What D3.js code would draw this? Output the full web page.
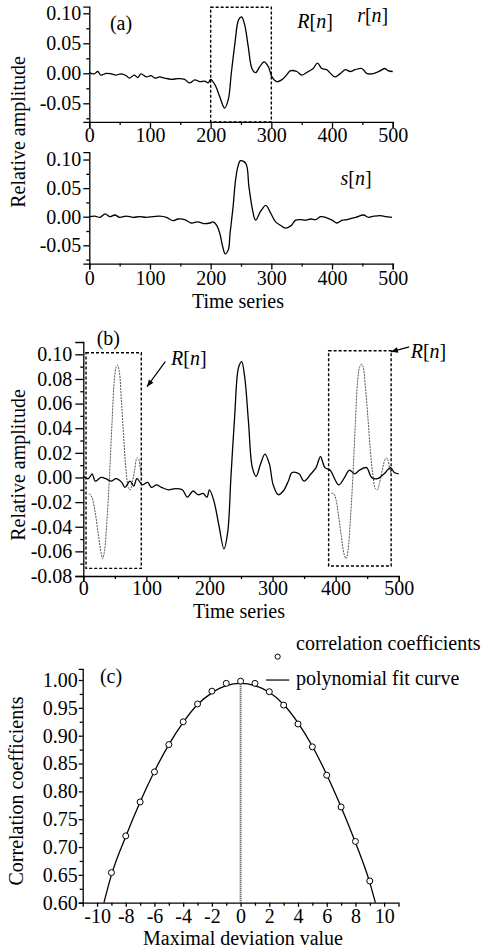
<!DOCTYPE html>
<html lang="en">
<head>
<meta charset="utf-8">
<title>Template matching figure</title>
<script src="https://d3js.org/d3.v7.min.js"></script>
<style>
    body { margin: 0; background: #fff; }
    .axis path, .axis line { stroke: #000; stroke-width: 1.3px; }
    .sig { fill: none; stroke: #000; stroke-width: 1.3px; }
    .ref { fill: none; stroke: #555; stroke-width: 1px; stroke-dasharray: 2,1; }
    .box { fill: none; stroke: #000; stroke-width: 1.4px; stroke-dasharray: 3,2; }
</style>
</head>
<body>
<svg id="fig"></svg>
<script>
// r[n]: received signal (panel a top, also solid line in panel b)
var rT = [0, 8, 14, 19, 28, 36, 44, 52, 61, 66, 74, 80, 85, 94, 102, 108, 116, 124, 135, 146, 157, 165, 174, 182, 190, 196,
          200, 207, 215, 223, 229, 234, 240, 246, 251, 256, 262, 268, 274, 281, 288, 295, 301, 309, 317, 325, 331, 342,
          350, 361, 369, 376, 383, 391, 405, 413, 422, 430, 438, 449, 457, 466, 477, 487, 493, 500];
var rV = [0.001, -0.001, 0.003, -0.003, 0, -0.001, -0.003, -0.001, -0.004, -0.008, -0.003, -0.007, -0.001, -0.006, -0.004,
          -0.008, -0.006, -0.008, -0.010, -0.009, -0.010, -0.016, -0.011, -0.014, -0.013, -0.016,
          -0.010, -0.019, -0.039, -0.058, -0.044, 0.000, 0.050, 0.089, 0.094, 0.081, 0.044, 0.008, 0.001, 0.011, 0.019,
          0.011, -0.006, -0.014, -0.011, -0.003, 0.004, 0.003, -0.003, 0.003, 0.008, 0.017, 0.008, 0.006, -0.006, -0.001,
          0.006, 0.003, 0.006, 0.008, 0, -0.001, 0.003, 0.008, 0.004, 0.003];

// s[n]: template signal (panel a bottom)
var sT = [0, 9, 18, 26, 34, 42, 50, 61, 72, 83, 94, 105, 116, 127, 138, 146, 157, 168, 179, 188, 199, 204, 210, 215, 220,
          224, 229, 232, 237, 241, 245, 249, 258, 263, 269, 274, 282, 291, 299, 307, 315, 323, 332, 340, 348, 356, 365,
          373, 381, 389, 400, 408, 417, 425, 439, 452, 460, 469, 480, 488, 499];
var sV = [0, 0.001, -0.001, 0.005, 0, 0.003, -0.001, 0.001, -0.001, 0, -0.001, 0, 0.001, -0.001, -0.007, -0.004, -0.005,
          -0.011, -0.009, -0.012, -0.011, -0.009, -0.015, -0.029, -0.053, -0.065, -0.058, -0.029, 0.018, 0.064, 0.088,
          0.098, 0.093, 0.053, 0.012, -0.006, 0.009, 0.020, 0.006, -0.009, -0.015, -0.020, -0.016, -0.006, -0.005,
          -0.006, -0.004, -0.005, 0, -0.001, -0.006, -0.011, -0.006, -0.005, -0.001, 0.003, -0.001, 0.001, 0.002,
          0, -0.001];

// R[n]: shifted copies of the template (panel b, dotted)
var leftT = [9.5, 13.7, 19.0, 24.3, 28.5, 30.7, 33.8, 37.5, 41.2, 45.5, 49.2, 52.3, 54.4, 57.1, 60.3, 64.0, 67.7, 71.9,
             74.5, 77.2, 81.4, 85.1, 87.7, 90.4, 93.0];
var leftV = [-0.013, -0.016, -0.029, -0.048, -0.062, -0.066, -0.059, -0.035, -0.002, 0.044, 0.079, 0.090, 0.091, 0.086,
             0.063, 0.033, 0.006, -0.009, -0.010, -0.005, 0.006, 0.016, 0.015, 0.007, 0.001];
var rightT = [393.2, 396.9, 400.6, 404.9, 409.1, 413.3, 416.5, 419.7, 423.3, 427.1, 431.3, 435.0, 438.2, 440.8, 443.5,
              447.1, 451.4, 455.1, 458.8, 463.0, 466.2, 469.3, 473.6, 477.8, 480.5, 483.1, 485.7, 488.4];
var rightV = [-0.013, -0.013, -0.018, -0.032, -0.048, -0.062, -0.066, -0.059, -0.035, -0.002, 0.044, 0.079, 0.090, 0.092,
              0.090, 0.074, 0.047, 0.022, 0.003, -0.009, -0.010, -0.005, 0.005, 0.014, 0.016, 0.014, 0.007, 0.003];

// panel c: correlation coefficients and polynomial fit
var devX = [-9, -8, -7, -6, -5, -4, -3, -2, -1, 0, 1, 2, 3, 4, 5, 6, 7, 8, 9];
var corrV = [0.654, 0.720, 0.781, 0.835, 0.884, 0.925, 0.957, 0.980, 0.994, 0.998, 0.994, 0.979, 0.955, 0.921, 0.880,
             0.829, 0.772, 0.710, 0.639];
var fitX = [-9.52, -9, -8, -7, -6, -5, -4, -3, -2, -1, 0, 1, 2, 3, 4, 5, 6, 7, 8, 9, 9.39];
var fitV = [0.600, 0.650, 0.719, 0.781, 0.836, 0.884, 0.924, 0.956, 0.977, 0.990, 0.994, 0.990, 0.978, 0.956, 0.923,
            0.881, 0.830, 0.772, 0.708, 0.636, 0.600];

// ticks
var timeTicks = [0, 100, 200, 300, 400, 500];
var timeLabels = ["0", "100", "200", "300", "400", "500"];
var timeMinor = [50, 150, 250, 350, 450];
var aTicks = [-0.05, 0, 0.05, 0.10];
var aLabels = ["-0.05", "0.00", "0.05", "0.10"];
var aMinor = [-0.075, -0.025, 0.025, 0.075];
var bTicks = [-0.08, -0.06, -0.04, -0.02, 0, 0.02, 0.04, 0.06, 0.08, 0.10];
var bLabels = ["-0.08", "-0.06", "-0.04", "-0.02", "0.00", "0.02", "0.04", "0.06", "0.08", "0.10"];
var bMinor = [-0.07, -0.05, -0.03, -0.01, 0.01, 0.03, 0.05, 0.07, 0.09];
var cXTicks = [-10, -8, -6, -4, -2, 0, 2, 4, 6, 8, 10];
var cXLabels = ["-10", "-8", "-6", "-4", "-2", "0", "2", "4", "6", "8", "10"];
var cXMinor = [-9, -7, -5, -3, -1, 1, 3, 5, 7, 9];
var cYTicks = [0.60, 0.65, 0.70, 0.75, 0.80, 0.85, 0.90, 0.95, 1.00];
var cYLabels = ["0.60", "0.65", "0.70", "0.75", "0.80", "0.85", "0.90", "0.95", "1.00"];
var cYMinor = [0.625, 0.675, 0.725, 0.775, 0.825, 0.875, 0.925, 0.975];

var FONT = "'Liberation Serif', 'Times New Roman', Times, serif";
var W = 492, H = 948;
var svg = d3.select("#fig").attr("width", W).attr("height", H);

function toPts(xs, ys) {
    return xs.map(function (d, i) { return [d, ys[i]]; });
}

function styleText(sel) {
    sel.style("font-family", FONT).style("font-size", "20px").attr("fill", "#000");
}

function drawAxes(x, y, o) {
    var gx = svg.append("g").attr("class", "axis")
        .attr("transform", "translate(0," + y.range()[0] + ")");
    gx.call(d3.axisBottom(x).tickValues(o.xTicks).tickFormat(function (d, i) { return o.xLabels[i]; })
        .tickSizeOuter(0).tickSize(o.xTick).tickPadding(o.xPad));
    styleText(gx.selectAll("text"));
    var mx = gx.append("g").call(d3.axisBottom(x).tickValues(o.xMinor).tickSize(3));
    mx.select(".domain").remove();
    mx.selectAll("text").remove();

    var gy = svg.append("g").attr("class", "axis")
        .attr("transform", "translate(" + x.range()[0] + ",0)");
    gy.call(d3.axisLeft(y).tickValues(o.yTicks).tickFormat(function (d, i) { return o.yLabels[i]; })
        .tickSizeOuter(0).tickSize(o.yTick).tickPadding(o.yPad));
    styleText(gy.selectAll("text"));
    var my = gy.append("g").call(d3.axisLeft(y).tickValues(o.yMinor).tickSize(3));
    my.select(".domain").remove();
    my.selectAll("text").remove();
}

function plainText(px, py, txt, anchor) {
    var t = svg.append("text").attr("x", px).attr("y", py).attr("text-anchor", anchor || "start").text(txt);
    styleText(t);
    return t;
}

function seqLabel(px, py, letter) {
    var t = svg.append("text").attr("x", px).attr("y", py);
    styleText(t);
    t.append("tspan").style("font-style", "italic").text(letter);
    t.append("tspan").text("[");
    t.append("tspan").style("font-style", "italic").text("n");
    t.append("tspan").text("]");
}

function yTitle(px, py, txt) {
    var t = svg.append("text")
        .attr("transform", "translate(" + px + "," + py + ") rotate(-90)")
        .attr("text-anchor", "middle").text(txt);
    styleText(t);
}

var line = d3.line().x(function (d) { return d.sx; }).y(function (d) { return d.sy; });
function drawLine(x, y, xs, ys, cls, curve) {
    var pts = toPts(xs, ys).map(function (p) { return { sx: x(p[0]), sy: y(p[1]) }; });
    svg.append("path").datum(pts).attr("class", cls)
        .attr("d", line.curve(curve || d3.curveCatmullRom.alpha(0.5)));
}

function drawBox(x, y, x0, x1, y0, y1) {
    svg.append("rect").attr("class", "box")
        .attr("x", x(x0)).attr("y", y(y1))
        .attr("width", x(x1) - x(x0)).attr("height", y(y0) - y(y1));
}

// ---------- panel (a), top: r[n] ----------
var xa = d3.scaleLinear().domain([0, 500]).range([89.3, 392.7]);
var ya1 = d3.scaleLinear().domain([-0.081, 0.111]).range([121.9, 6.7]);
drawAxes(xa, ya1, { xTicks: timeTicks, xLabels: timeLabels, xMinor: timeMinor, xTick: 6, xPad: 0,
    yTicks: aTicks, yLabels: aLabels, yMinor: aMinor, yTick: 6, yPad: 2 });
drawLine(xa, ya1, rT, rV, "sig");
drawBox(xa, ya1, 200, 300, -0.081, 0.110);
plainText(xa(34), ya1(0.072), "(a)");
seqLabel(xa(342.8), ya1(0.0755), "R");
seqLabel(xa(441.4), ya1(0.0855), "r");

// ---------- panel (a), bottom: s[n] ----------
var ya2 = d3.scaleLinear().domain([-0.082, 0.113]).range([263.6, 152.1]);
drawAxes(xa, ya2, { xTicks: timeTicks, xLabels: timeLabels, xMinor: timeMinor, xTick: 6, xPad: 1.5,
    yTicks: aTicks, yLabels: aLabels, yMinor: aMinor, yTick: 6, yPad: 2 });
drawLine(xa, ya2, sT, sV, "sig");
seqLabel(xa(414), ya2(0.0555), "s");
yTitle(25, 132, "Relative amplitude");
plainText(238, 308, "Time series", "middle");

// ---------- panel (b) ----------
var xb = d3.scaleLinear().domain([0, 500]).range([83.3, 398.7]);
var yb = d3.scaleLinear().domain([-0.08, 0.11]).range([576, 342]);
drawAxes(xb, yb, { xTicks: timeTicks, xLabels: timeLabels, xMinor: timeMinor, xTick: 6, xPad: -1,
    yTicks: bTicks, yLabels: bLabels, yMinor: bMinor, yTick: 8, yPad: 3 });
drawLine(xb, yb, leftT, leftV, "ref");
drawLine(xb, yb, rightT, rightV, "ref");
drawLine(xb, yb, rT, rV, "sig");
drawBox(xb, yb, 4.3, 91.9, -0.0738, 0.1013);
drawBox(xb, yb, 388.9, 488, -0.0719, 0.1029);
plainText(xb(21.2), yb(0.1076), "(b)");
seqLabel(xb(139.2), yb(0.0913), "R");
seqLabel(xb(519), yb(0.097), "R");

svg.append("defs").append("marker").attr("id", "head")
    .attr("viewBox", "0 0 10 10").attr("refX", 10).attr("refY", 5)
    .attr("markerWidth", 9).attr("markerHeight", 7).attr("orient", "auto")
    .attr("markerUnits", "userSpaceOnUse")
    .append("path").attr("d", "M0,1 L10,5 L0,9 Z").attr("fill", "#000");
function arrow(x, y, a, b) {
    svg.append("line").attr("x1", x(a[0])).attr("y1", y(a[1])).attr("x2", x(b[0])).attr("y2", y(b[1]))
        .attr("stroke", "#000").attr("stroke-width", 1.2).attr("marker-end", "url(#head)");
}
arrow(xb, yb, [130, 0.094], [101, 0.0737]);
arrow(xb, yb, [516.6, 0.106], [487.6, 0.102]);
yTitle(25, 465, "Relative amplitude");
plainText(239, 618, "Time series", "middle");

// ---------- panel (c) ----------
var xc = d3.scaleLinear().domain([-11, 11]).range([82.7, 398.5]);
var yc = d3.scaleLinear().domain([0.60, 1.02]).range([902.7, 668.9]);
drawAxes(xc, yc, { xTicks: cXTicks, xLabels: cXLabels, xMinor: cXMinor, xTick: 4, xPad: 2,
    yTicks: cYTicks, yLabels: cYLabels, yMinor: cYMinor, yTick: 4, yPad: 1 });
svg.append("line").attr("x1", xc(0)).attr("x2", xc(0))
    .attr("y1", yc(0.60)).attr("y2", yc(d3.max(fitV)))
    .attr("stroke", "#444").attr("stroke-width", 2).attr("stroke-dasharray", "1,1");
drawLine(xc, yc, fitX, fitV, "sig", d3.curveMonotoneX);
svg.append("g").selectAll("circle").data(toPts(devX, corrV)).join("circle")
    .attr("cx", function (d) { return xc(d[0]); })
    .attr("cy", function (d) { return yc(d[1]); })
    .attr("r", 3).attr("fill", "#fff").attr("stroke", "#000").attr("stroke-width", 1);
plainText(xc(-9.8), yc(0.9946), "(c)");

// legend
svg.append("circle").attr("cx", xc(2.58)).attr("cy", yc(1.042)).attr("r", 2.6)
    .attr("fill", "#fff").attr("stroke", "#000");
plainText(xc(3.86), yc(1.054), "correlation coefficients");
svg.append("line").attr("x1", xc(1.77)).attr("x2", xc(3.39)).attr("y1", yc(1.0)).attr("y2", yc(1.0))
    .attr("stroke", "#000").attr("stroke-width", 1.2);
plainText(xc(3.86), yc(0.991), "polynomial fit curve");

yTitle(23, 791, "Correlation coefficients");
plainText(243, 945, "Maximal deviation value", "middle");
</script>
</body>
</html>
